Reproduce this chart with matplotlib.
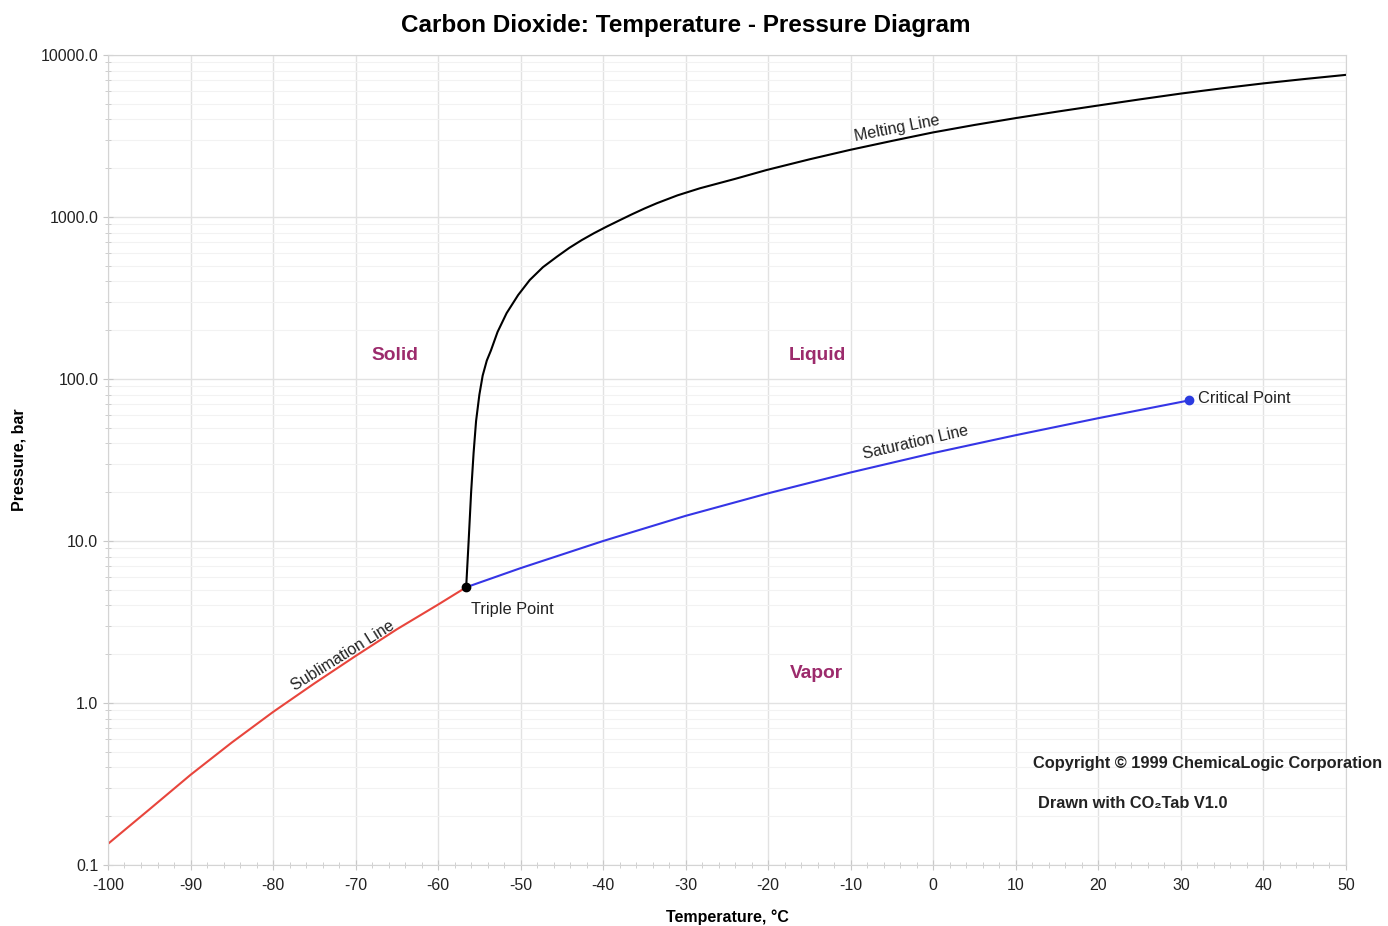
import matplotlib
matplotlib.use("Agg")
from matplotlib import pyplot as plt
from matplotlib.ticker import MultipleLocator, LogLocator, FuncFormatter, NullFormatter

plt.rcParams['font.family'] = ['Liberation Sans', 'DejaVu Sans']
plt.rcParams['axes.unicode_minus'] = False

# sublimation line (deg C, bar)
subl_t = [-100, -95, -90, -85, -80, -75, -70, -65, -60, -56.6]
subl_p = [0.135, 0.22, 0.36, 0.57, 0.88, 1.32, 1.95, 2.85, 4.05, 5.18]

# saturation line
sat_t = [-56.6, -50, -40, -30, -20, -10, 0, 10, 20, 30, 31.0]
sat_p = [5.18, 6.8, 10.0, 14.3, 19.7, 26.5, 34.9, 45.0, 57.3, 72.1, 73.8]

# melting line
melt_t = [-56.6, -56.3, -56.0, -55.7, -55.4, -55.0, -54.6, -54.1, -53.6, -52.8,
          -51.7, -50.3, -48.9, -47.3, -45.6, -44.1, -42.6, -41.1, -39.6, -38.0,
          -36.5, -35.0, -33.5, -31.0, -28.3, -24.0, -20.2, -15.0, -10.1, -5.0,
          0, 5, 10, 15, 20, 25, 30, 35, 40, 45, 50]
melt_p = [5.18, 10, 20, 35, 55, 80, 105, 130, 150, 195,
          255, 330, 408, 490, 569, 645, 720, 795, 871, 955,
          1040, 1128, 1216, 1360, 1503, 1720, 1950, 2270, 2595, 2950,
          3330, 3700, 4080, 4470, 4880, 5320, 5780, 6230, 6680, 7110, 7540]

triple = (-56.6, 5.18)
critical = (31.0, 73.8)

fig = plt.figure(figsize=(13.88, 9.26), dpi=100)
ax = fig.add_axes([0.0778, 0.0659, 0.8919, 0.8747])

ax.plot(subl_t, subl_p, color='#e8453c', linewidth=1.5)
ax.plot(sat_t, sat_p, color='#3535e6', linewidth=1.5)
ax.plot(melt_t, melt_p, color='black', linewidth=1.5)
ax.plot(*triple, 'o', color='black', markersize=6, zorder=5)
ax.plot(*critical, 'o', color='#2b3be0', markersize=6, zorder=5)

ax.set_yscale('log')
ax.set_xlim(-100, 50)
ax.set_ylim(0.1, 10000)

ax.xaxis.set_major_locator(MultipleLocator(10))
ax.xaxis.set_minor_locator(MultipleLocator(2))
ax.yaxis.set_major_locator(LogLocator(base=10, numticks=10))
ax.yaxis.set_minor_locator(LogLocator(base=10, subs=range(2, 10), numticks=50))
ax.yaxis.set_major_formatter(FuncFormatter(lambda v, pos: f"{v:.1f}"))
ax.yaxis.set_minor_formatter(NullFormatter())

ax.grid(which='major', color='#e2e2e2', linewidth=1.0)
ax.grid(which='minor', axis='y', color='#f2f2f2', linewidth=0.8)
ax.set_axisbelow(True)
for s in ax.spines.values():
    s.set_color('#d4d4d4')
ax.tick_params(which='both', direction='inout', color='#c8c8c8', labelsize=11.5, labelcolor='#222222')
ax.tick_params(which='major', length=7)
ax.tick_params(which='minor', length=4)
ax.tick_params(axis='x', pad=6)

ax.set_xlabel("Temperature, °C", fontsize=11.5, fontweight='bold', va='center')
ax.set_ylabel("Pressure, bar", fontsize=11.5, fontweight='bold', va='center')
ax.xaxis.set_label_coords(0.5, -0.064)
ax.yaxis.set_label_coords(-0.072, 0.5)
fig.text(0.494, 0.972, "Carbon Dioxide: Temperature - Pressure Diagram",
         ha='center', va='center', fontsize=17.5, fontweight='bold')

region = '#9c2b6c'
ax.text(-65.2, 139, "Solid", color=region, fontsize=13.8, fontweight='bold', ha='center', va='center')
ax.text(-14.0, 139, "Liquid", color=region, fontsize=13.8, fontweight='bold', ha='center', va='center')
ax.text(-14.2, 1.53, "Vapor", color=region, fontsize=13.8, fontweight='bold', ha='center', va='center')

ax.text(-56.0, 3.75, "Triple Point", fontsize=11.8, color='#222222', ha='left', va='center')
ax.text(32.1, 76, "Critical Point", fontsize=11.8, color='#222222', ha='left', va='center')
ax.text(-4.4, 3540, "Melting Line", fontsize=11.5, color='#222222', ha='center', va='center', rotation=11)
ax.text(-2.1, 40.3, "Saturation Line", fontsize=11.5, color='#222222', ha='center', va='center', rotation=13)
ax.text(-71.5, 1.95, "Sublimation Line", fontsize=11.5, color='#222222', ha='center', va='center', rotation=32)

fig.text(0.744, 0.175, "Copyright © 1999 ChemicaLogic Corporation", fontsize=11.8,
         fontweight='bold', color='#222222', ha='left', va='center')
fig.text(0.748, 0.132, "Drawn with CO\u2082Tab V1.0", fontsize=11.8,
         fontweight='bold', color='#222222', ha='left', va='center')

fig.savefig("out.png", dpi=100)
